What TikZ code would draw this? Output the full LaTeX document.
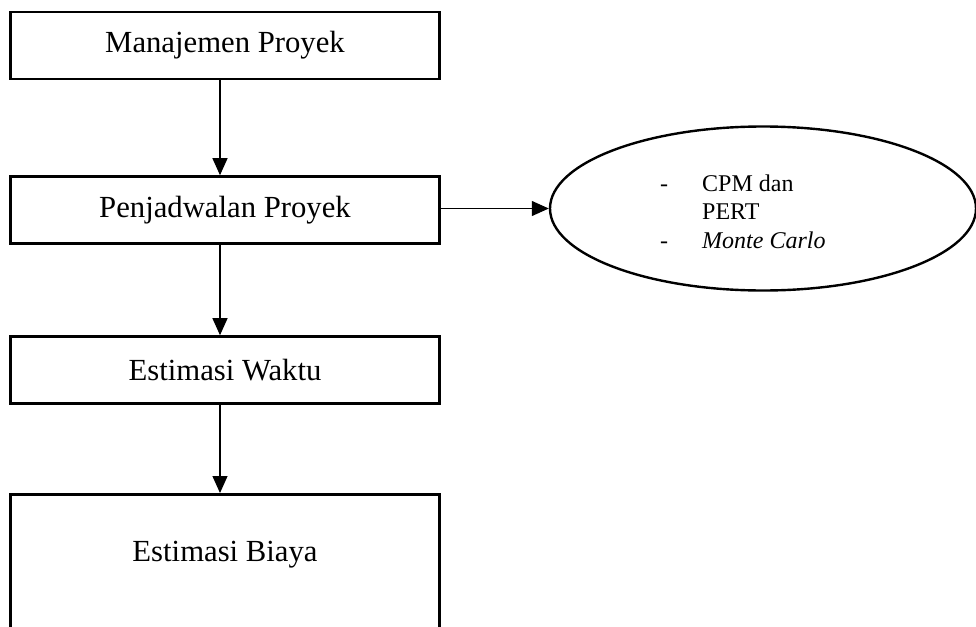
\documentclass[tikz,border=0pt]{standalone}
\usepackage{fontspec}
\setmainfont{Liberation Serif}
\usetikzlibrary{arrows.meta,shapes.geometric}

\begin{document}
\begin{tikzpicture}[x=1pt,y=-1pt,
  box/.style={draw, line width=2.6pt, minimum width=429pt, minimum height=67pt,
              inner sep=0pt, font=\fontsize{30.7}{36}\selectfont},
  link/.style={line width=1.2pt, -{Triangle[length=17pt,width=15pt]}},
  oval/.style={draw, ellipse, line width=2.4pt, inner sep=0pt,
               minimum width=426pt, minimum height=164pt}]
\useasboundingbox (0,0) rectangle (976,626);

% the chain of steps
\node[box] (b1) at (225,45.5) {Manajemen Proyek};
\node[box] (b2) at (225,210) {Penjadwalan Proyek};
\node[box] (b3) at (225,370) {Estimasi Waktu};
\node[box, anchor=north, text height=67.5pt, text depth=150pt] (b4) at (225,493) {Estimasi Biaya};

% methods used for scheduling
\node[oval] (ell) at (763,208.5) {};
\node[anchor=north west, inner sep=0pt, font=\fontsize{24}{28.5}\selectfont] (methods) at (660,171)
  {\begin{tabular}{@{}l@{\hspace{34pt}}l@{}}
     - & CPM dan \\
       & PERT \\
     - & \textit{Monte Carlo}
   \end{tabular}};

% connectors
\draw[link] ([xshift=-5pt]b1.south) -- ([xshift=-5pt]b2.north);
\draw[link] ([xshift=-5pt]b2.south) -- ([xshift=-5pt]b3.north);
\draw[link] ([xshift=-5pt]b3.south) -- ([xshift=-5pt]b4.north);
\draw[link] (b2.east |- ell.west) -- (ell.west);
\end{tikzpicture}
\end{document}
